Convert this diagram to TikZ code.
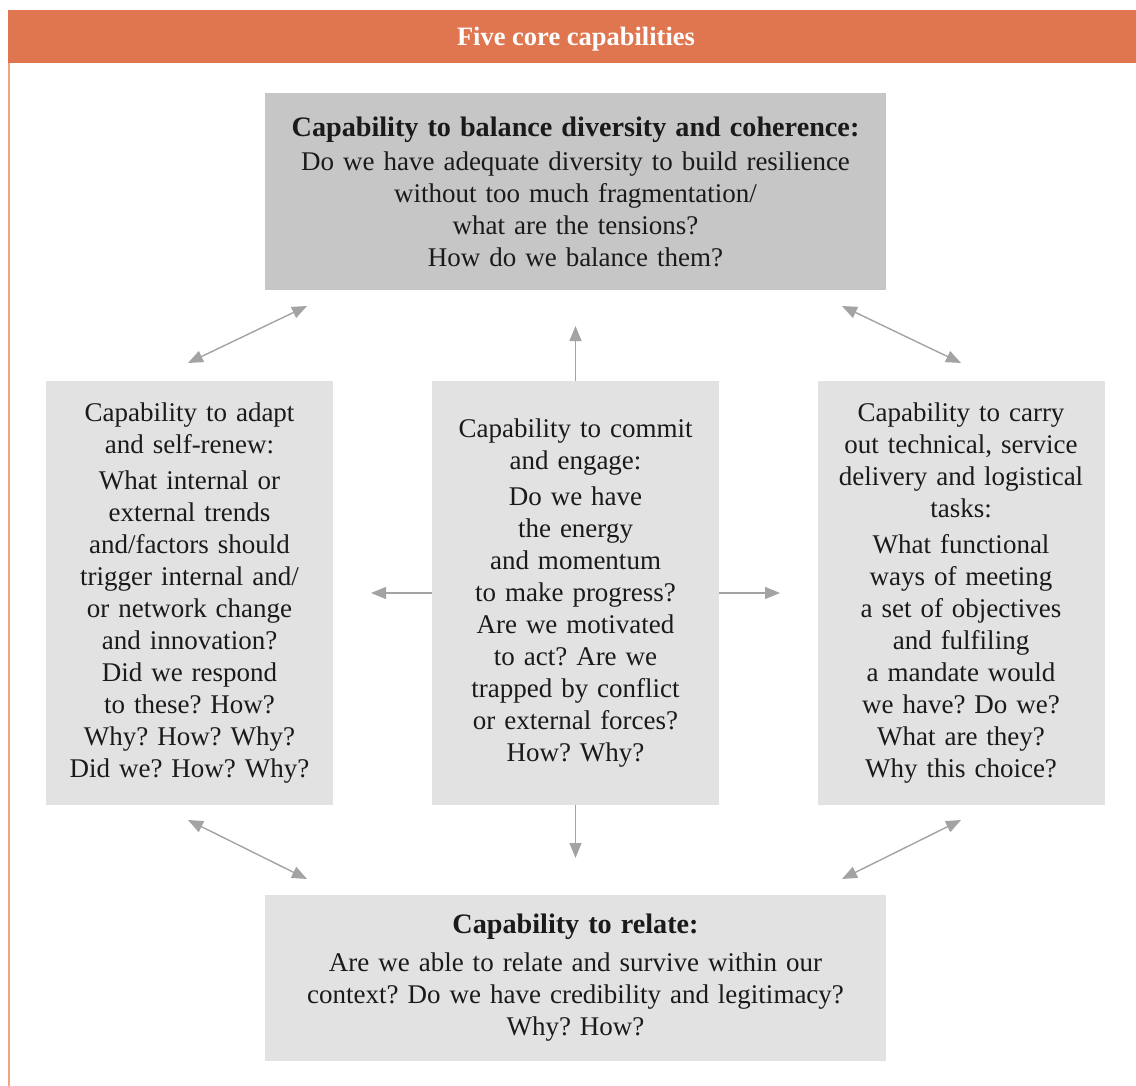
\documentclass[tikz,border=0pt]{standalone}
\usepackage{fontspec}
\setmainfont{Liberation Serif}
\usetikzlibrary{arrows.meta}
\frenchspacing
\definecolor{bandorange}{HTML}{E07650}
\definecolor{frameorange}{HTML}{F5A27F}
\definecolor{darkbox}{HTML}{C6C6C6}
\definecolor{lightbox}{HTML}{E2E2E2}
\definecolor{arrowgrey}{HTML}{A3A3A3}
\definecolor{inkgrey}{HTML}{1A1A1A}
\tikzset{
  capbox/.style={fill=lightbox, inner sep=0pt, align=center, text=inkgrey,
    font=\fontsize{27}{32}\selectfont\frenchspacing},
  sidebox/.style={capbox, minimum width=287pt, minimum height=424pt, text width=284pt},
  widebox/.style={capbox, minimum width=621pt, text width=610pt},
  headline/.style={font=\fontsize{28}{32}\selectfont\bfseries},
  link/.style={draw=arrowgrey, line width=1.4pt,
    -{Triangle[length=15pt,width=12pt]}},
  duallink/.style={link, {Triangle[length=15pt,width=12pt]}-{Triangle[length=15pt,width=12pt]}}
}
\begin{document}
\begin{tikzpicture}[x=1pt,y=-1pt]
\useasboundingbox (0,0) rectangle (1136,1086);

% header band and frame rule
\fill[bandorange] (8,10) rectangle (1136,63);
\draw[frameorange, line width=1.5pt] (8.75,63) -- (8.75,1086);
\node[text=white, font=\fontsize{26.5}{30}\selectfont\bfseries] (title) at (576,39.5) {Five core capabilities};

% capability boxes
\node[widebox, fill=darkbox, minimum height=197pt] (balance) at (575.5,191.5)
  {{\bfseries\fontsize{28.2}{32}\selectfont Capability to balance diversity and coherence:}\\[2pt]
   Do we have adequate diversity to build resilience\\
   without too much fragmentation/\\
   what are the tensions?\\
   How do we balance them?};

\node[sidebox] (adapt) at (189.5,593)
  {Capability to adapt\\
   and self-renew:\\[4pt]
   What internal or\\
   external trends\\
   and/factors should\\
   trigger internal and/\\
   or network change\\
   and innovation?\\
   Did we respond\\
   to these? How?\\
   Why? How? Why?\\
   Did we? How? Why?};

\node[sidebox] (commit) at (575.5,593)
  {Capability to commit\\
   and engage:\\[4pt]
   Do we have\\
   the energy\\
   and momentum\\
   to make progress?\\
   Are we motivated\\
   to act? Are we\\
   trapped by conflict\\
   or external forces?\\
   How? Why?};

\node[sidebox] (carry) at (961,593)
  {Capability to carry\\
   out technical, service\\
   delivery and logistical\\
   tasks:\\[4pt]
   What functional\\
   ways of meeting\\
   a set of objectives\\
   and fulfiling\\
   a mandate would\\
   we have? Do we?\\
   What are they?\\
   Why this choice?};

\node[widebox, minimum height=166pt] (relate) at (575.5,978)
  {{\bfseries\fontsize{28.2}{32}\selectfont Capability to relate:}\\[6pt]
   Are we able to relate and survive within our\\
   context? Do we have credibility and legitimacy?\\
   Why? How?};

% free ends of the connectors
\coordinate (tlA) at (188,363);  \coordinate (tlB) at (307,306);
\coordinate (trA) at (842,306);  \coordinate (trB) at (961,363);
\coordinate (blA) at (188,820);  \coordinate (blB) at (307,879);
\coordinate (brA) at (842,879);  \coordinate (brB) at (961,820);
\coordinate (upEnd) at (575.5,326);
\coordinate (downEnd) at (575.5,858);
\coordinate (leftEnd) at (371,593);
\coordinate (rightEnd) at (780,593);

% links between the capabilities
\draw[duallink] (tlA) -- (tlB);
\draw[duallink] (trA) -- (trB);
\draw[duallink] (blA) -- (blB);
\draw[duallink] (brA) -- (brB);
\draw[link] (commit.north) -- (upEnd);
\draw[link] (commit.south) -- (downEnd);
\draw[link] (commit.west) -- (leftEnd);
\draw[link] (commit.east) -- (rightEnd);
\end{tikzpicture}
\end{document}
